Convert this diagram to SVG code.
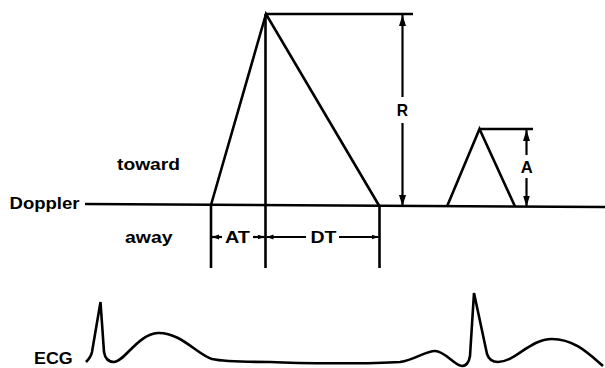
<svg xmlns="http://www.w3.org/2000/svg" width="605" height="368" viewBox="0 0 605 368">
<style>
.ln{stroke:#000;stroke-width:2.6;fill:none;stroke-linecap:butt}
.ar{stroke:#000;stroke-width:2.2;fill:none}
.t{font-family:"Liberation Sans",Arial,sans-serif;font-weight:bold;font-size:16.5px;fill:#000}
</style>
<defs>
<marker id="big" markerUnits="userSpaceOnUse" markerWidth="12" markerHeight="8" refX="11" refY="3.5" orient="auto">
<path d="M0,0 L11,3.5 L0,7 z" fill="#000"/>
</marker>
<marker id="sm" markerUnits="userSpaceOnUse" markerWidth="8" markerHeight="6" refX="7" refY="2.5" orient="auto">
<path d="M0,0 L7,2.5 L0,5 z" fill="#000"/>
</marker>
</defs>
<rect width="605" height="368" fill="#fff"/>
<g id="doppler-waveform">
<line class="ln" x1="85" y1="204" x2="605" y2="207"/>
<polyline class="ln" points="211,205 266,14 379,205.5"/>
<line class="ln" x1="266" y1="14" x2="413" y2="14"/>
<line class="ln" x1="265.5" y1="14" x2="265.5" y2="268"/>
<line class="ln" x1="211" y1="205" x2="211" y2="268"/>
<line class="ln" x1="379.5" y1="205.5" x2="379.5" y2="268"/>
<polyline class="ln" points="447,206.5 479.5,129 515,206.5"/>
<line class="ln" x1="479.5" y1="129" x2="533" y2="129"/>
</g>
<g id="connectors">
<line class="ar" x1="402.5" y1="97" x2="402.5" y2="15" marker-end="url(#big)"/>
<line class="ar" x1="402.5" y1="123" x2="402.5" y2="206" marker-end="url(#big)"/>
<line class="ar" x1="526.5" y1="155" x2="526.5" y2="130" marker-end="url(#big)"/>
<line class="ar" x1="526.5" y1="178" x2="526.5" y2="206.5" marker-end="url(#big)"/>
<line class="ar" x1="222" y1="237" x2="212" y2="237" marker-end="url(#sm)"/>
<line class="ar" x1="253" y1="237" x2="264.5" y2="237" marker-end="url(#sm)"/>
<line class="ar" x1="306" y1="237" x2="266.5" y2="237" marker-end="url(#sm)"/>
<line class="ar" x1="339" y1="237" x2="378.5" y2="237" marker-end="url(#sm)"/>
</g>
<g id="labels">
<text class="t" x="117" y="169.5" textLength="63" lengthAdjust="spacingAndGlyphs">toward</text>
<text class="t" x="9.5" y="208.5" textLength="70" lengthAdjust="spacingAndGlyphs">Doppler</text>
<text class="t" x="125" y="243" textLength="47.5" lengthAdjust="spacingAndGlyphs">away</text>
<text class="t" x="225" y="242.5" textLength="25" lengthAdjust="spacingAndGlyphs">AT</text>
<text class="t" x="310.5" y="242.5" textLength="26" lengthAdjust="spacingAndGlyphs">DT</text>
<text class="t" x="396.8" y="116" textLength="11.3" lengthAdjust="spacingAndGlyphs">R</text>
<text class="t" x="520.7" y="172.7" textLength="12" lengthAdjust="spacingAndGlyphs">A</text>
<text class="t" x="34" y="364" textLength="38.7" lengthAdjust="spacingAndGlyphs">ECG</text>
</g>
<g id="ecg">
<path class="ln" d="M86,362 C89,359 91,357 92,352 L100.5,302 L104,352 C105,358 108,362 114,362 C124,362 138,334 158,333 C180,332 198,355 212,359 C225,362 245,362 270,362 C300,363.5 370,364 400,362 C415,360 425,351 435,351 C445,351 455,366 462,366 C467,366 469,362 470,356 L474,293 L487,354 C489,360 493,362 498,362 C515,362 530,339 552,339 C575,339 590,355 603,366"/>
</g>
</svg>
